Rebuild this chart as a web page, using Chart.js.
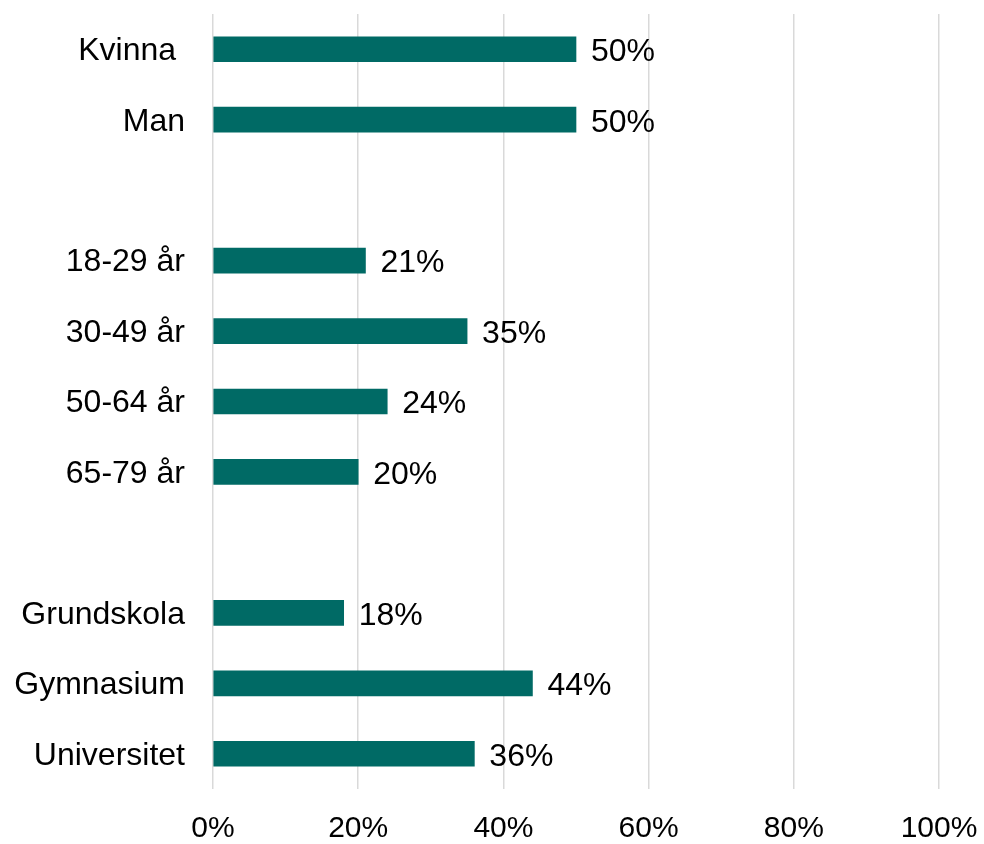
<!DOCTYPE html>
<html>
<head>
<meta charset="utf-8">
<script src="https://cdn.jsdelivr.net/npm/chart.js@4"></script>
<style>
  html, body { margin: 0; padding: 0; background: #fff; }
  #wrap { width: 984px; height: 844px; }
</style>
</head>
<body>
<div id="wrap"><canvas id="chart" width="984" height="844"></canvas></div>
<script>
// rows, with empty spacer rows between the groups
const categories = ["Kvinna ", "Man", "", "18-29 år", "30-49 år", "50-64 år", "65-79 år", "", "Grundskola", "Gymnasium", "Universitet"];
const shares = [50, 50, null, 21, 35, 24, 20, null, 18, 44, 36];
const xTicks = [0, 20, 40, 60, 80, 100];

const barColor = "#006A65";
const fontFamily = "'Liberation Sans', Arial, sans-serif";

// no extra room for label overhang, the layout padding handles it
function noOverhang(axis) {
    axis.paddingTop = 0;
    axis.paddingBottom = 0;
    axis.paddingLeft = 0;
    axis.paddingRight = 0;
}

// draws "NN%" just right of each bar end
const valueLabels = {
    id: "valueLabels",
    afterDatasetsDraw(chart) {
        const ctx = chart.ctx;
        const meta = chart.getDatasetMeta(0);
        ctx.save();
        ctx.font = "32px " + fontFamily;
        ctx.fillStyle = "#000";
        ctx.textAlign = "left";
        ctx.textBaseline = "middle";
        meta.data.forEach((bar, i) => {
            if (shares[i] == null) return;
            ctx.fillText(shares[i] + "%", bar.x + 15, bar.y + 3);
        });
        ctx.restore();
    }
};

new Chart(document.getElementById("chart"), {
    type: "bar",
    data: {
        labels: categories,
        datasets: [{
            data: shares,
            backgroundColor: barColor,
            borderWidth: 0,
            barThickness: 25
        }]
    },
    options: {
        indexAxis: "y",
        responsive: false,
        animation: false,
        layout: { padding: { top: 14, right: 45, left: 0, bottom: 0 } },
        scales: {
            x: {
                min: 0,
                max: 100,
                afterBuildTicks: axis => { axis.ticks = xTicks.map(v => ({ value: v })); },
                afterFit: axis => { noOverhang(axis); axis.height = 55; },
                ticks: {
                    color: "#000",
                    font: { family: fontFamily, size: 30 },
                    padding: 22,
                    maxRotation: 0,
                    callback: v => v + "%"
                },
                grid: { color: "#d9d9d9", lineWidth: 1.5, drawTicks: false },
                border: { display: false }
            },
            y: {
                afterFit: axis => { noOverhang(axis); axis.width = 213; },
                ticks: {
                    color: "#000",
                    font: { family: fontFamily, size: 32 },
                    padding: 28,
                    labelOffset: 2,
                    autoSkip: false
                },
                grid: { display: false, drawTicks: false },
                border: { display: false }
            }
        },
        plugins: {
            legend: { display: false },
            tooltip: { enabled: false }
        }
    },
    plugins: [valueLabels]
});
</script>
</body>
</html>
